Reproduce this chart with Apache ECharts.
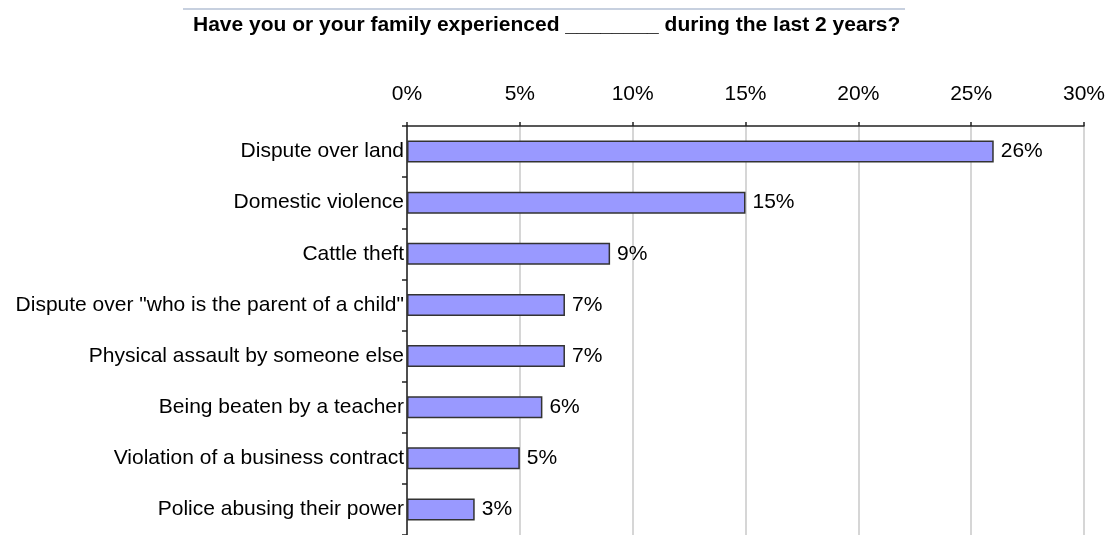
<!DOCTYPE html>
<html>
<head>
<meta charset="utf-8">
<script src="https://cdn.jsdelivr.net/npm/echarts@6/dist/echarts.min.js"></script>
<style>
  html, body { margin: 0; padding: 0; background: #fff; }
  #chart { width: 1110px; height: 535px; }
</style>
</head>
<body>
<div id="chart"></div>
<script>
  // categories top to bottom
  var categories = [
    'Dispute over land',
    'Domestic violence',
    'Cattle theft',
    'Dispute over "who is the parent of a child"',
    'Physical assault by someone else',
    'Being beaten by a teacher',
    'Violation of a business contract',
    'Police abusing their power'
  ]
  var values = [26, 15, 9, 7, 7, 6, 5, 3]
  var titleText = 'Have you or your family experienced ________ during the last 2 years?'

  var font = 'Liberation Sans, Arial, sans-serif'

  var chart = echarts.init(document.getElementById('chart'))
  chart.setOption({
    animation: false,
    title: {
      text: titleText,
      left: 188,
      top: 10,
      textStyle: {color: '#000', fontSize: 21, fontWeight: 'bold', fontFamily: font}
    },
    graphic: [{
      type: 'line',
      shape: {x1: 183, y1: 9, x2: 905, y2: 9},
      style: {stroke: '#b4c0d4', lineWidth: 1.5}
    }],
    grid: {left: 407, right: 26, top: 126, height: 414},
    xAxis: {
      type: 'value',
      position: 'top',
      min: 0,
      max: 30,
      interval: 5,
      axisLine: {show: true, lineStyle: {color: '#222', width: 1.5}},
      axisTick: {show: true, length: 4, lineStyle: {color: '#222', width: 1.5}},
      axisLabel: {
        formatter: '{value}%',
        margin: 21,
        color: '#000',
        fontSize: 21,
        fontFamily: font
      },
      splitLine: {show: true, lineStyle: {color: '#c8c8c8', width: 1.5}}
    },
    yAxis: {
      type: 'category',
      data: categories,
      inverse: true,
      axisLine: {show: true, lineStyle: {color: '#222', width: 1.5}},
      axisTick: {show: true, length: 5, lineStyle: {color: '#222', width: 1.5}},
      axisLabel: {
        margin: 3,
        color: '#000',
        fontSize: 21,
        fontFamily: font
      }
    },
    series: [{
      type: 'bar',
      data: values,
      barWidth: 22,
      itemStyle: {color: '#9999ff', borderColor: '#333', borderWidth: 1.5},
      label: {
        show: true,
        position: 'right',
        distance: 7,
        formatter: '{c}%',
        color: '#000',
        fontSize: 21,
        fontFamily: font
      }
    }]
  })
</script>
</body>
</html>
